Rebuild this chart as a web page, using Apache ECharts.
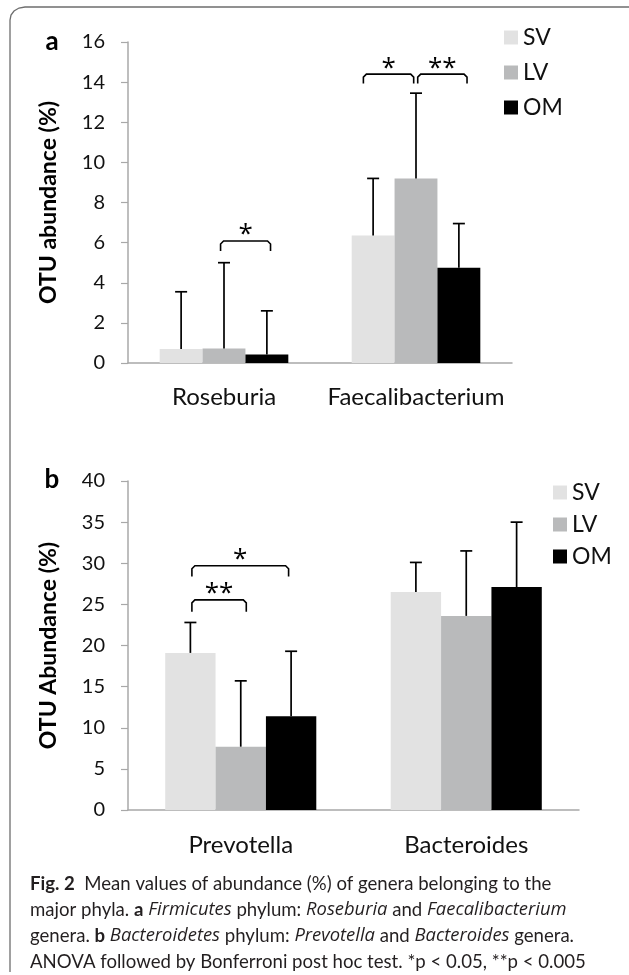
<!DOCTYPE html>
<html>
<head>
<meta charset="utf-8">
<script src="https://cdn.jsdelivr.net/npm/echarts@6/dist/echarts.min.js"></script>
<style>
html,body{margin:0;padding:0;background:#fff;}
#c{width:629px;height:975px;}
</style>
</head>
<body>
<div id="c"></div>
<script>
// ---- data ----
const groups = ['SV', 'LV', 'OM'];
const colors = ['#E2E2E2', '#B9BABB', '#000000'];

const catsA = ['Roseburia', 'Faecalibacterium'];
const svA = [0.7, 6.35];
const lvA = [0.72, 9.2];
const omA = [0.42, 4.75];
const svErrA = [3.55, 9.2];
const lvErrA = [5.0, 13.45];
const omErrA = [2.6, 6.95];
const yMaxA = 16, yStepA = 2;

const catsB = ['Prevotella', 'Bacteroides'];
const svB = [19.1, 26.5];
const lvB = [7.7, 23.6];
const omB = [11.4, 27.1];
const svErrB = [22.8, 30.1];
const lvErrB = [15.7, 31.5];
const omErrB = [19.3, 35.0];
const yMaxB = 40, yStepB = 5;

// significance brackets: category, start/end (in bar widths from category centre), top value, leg value
const bracketCatA = [0, 1, 1];
const bracketFromA = [-0.08, -1.227, 0.04];
const bracketToA = [1.085, -0.054, 1.19];
const bracketTopA = [6.08, 14.4, 14.4];
const bracketLegA = [5.58, 13.93, 13.93];
const bracketTextA = ['*', '*', '**'];

const bracketCatB = [0, 0];
const bracketFromB = [-0.97, -0.97];
const bracketToB = [0.95, 0.11];
const bracketTopB = [29.7, 25.55];
const bracketLegB = [28.4, 24.1];
const bracketTextB = ['*', '**'];

const FONT = 'Lato';
const GAP = 0.33;
const BAR_FRAC = (1 - GAP) / 3;
const AXIS_COLOR = '#A8A8A8';

const chart = echarts.init(document.getElementById('c'), null, {renderer: 'canvas'});

function barSeries(name, data, idx, gi) {
  return {
    type: 'bar', name: name, data: data,
    xAxisIndex: gi, yAxisIndex: gi,
    barGap: '0%', barCategoryGap: (GAP * 100) + '%',
    itemStyle: {color: colors[idx]},
    emphasis: {disabled: true},
    z: 2
  };
}

function errSeries(gi, means, ups) {
  const data = [];
  for (let g = 0; g < 3; g++) {
    for (let c = 0; c < means[g].length; c++) {
      data.push([c, g, means[g][c], ups[g][c]]);
    }
  }
  return {
    type: 'custom', xAxisIndex: gi, yAxisIndex: gi, z: 5,
    silent: true,
    encode: {x: 0, y: [2, 3]},
    data: data,
    renderItem: function (params, api) {
      const c = api.value(0), g = api.value(1);
      const band = api.size([1, 0])[0];
      const bw = band * BAR_FRAC;
      const p0 = api.coord([c, api.value(2)]);
      const p1 = api.coord([c, api.value(3)]);
      const x = p0[0] + (g - 1) * bw;
      const st = {stroke: '#000', lineWidth: 1.7};
      return {type: 'group', children: [
        {type: 'line', shape: {x1: x, y1: p0[1], x2: x, y2: p1[1]}, style: st},
        {type: 'line', shape: {x1: x - 6, y1: p1[1], x2: x + 6, y2: p1[1]}, style: st}
      ]};
    }
  };
}

function bracketSeries(gi, cats, from, to, top, leg, texts) {
  const data = cats.map((c, i) => [c, from[i], to[i], top[i], leg[i], i]);
  return {
    type: 'custom', xAxisIndex: gi, yAxisIndex: gi, z: 6,
    silent: true,
    encode: {x: 0, y: [3, 4]},
    data: data,
    renderItem: function (params, api) {
      const c = api.value(0);
      const band = api.size([1, 0])[0];
      const bw = band * BAR_FRAC;
      const pc = api.coord([c, api.value(3)]);
      const pl = api.coord([c, api.value(4)]);
      const x0 = pc[0] + api.value(1) * bw;
      const x1 = pc[0] + api.value(2) * bw;
      const yt = pc[1], yl = pl[1];
      const r = 3;
      const st = {stroke: '#000', lineWidth: 1.6, fill: null};
      return {type: 'group', children: [
        {type: 'polyline', shape: {points: [[x0, yl], [x0, yt + r], [x0 + r, yt], [x1 - r, yt], [x1, yt + r], [x1, yl]]}, style: st},
        {type: 'text', x: (x0 + x1) / 2, y: yt + 7,
          style: {text: texts[api.value(5)], fontFamily: 'Open Sans', fontSize: 26, fill: '#000',
            align: 'center', verticalAlign: 'bottom'}}
      ]};
    }
  };
}

const axisLabelY = {fontFamily: FONT, fontSize: 20, color: '#111', margin: 23};
const axisLabelX = {fontFamily: FONT, fontSize: 24, color: '#111', interval: 0};

const capStyle = {fontFamily: FONT, fontSize: 18.6, fill: '#231F20'};
const capItalic = {fontFamily: 'Open Sans', fontStyle: 'italic', fontSize: 18.4, fill: '#231F20'};
const capBold = Object.assign({}, capStyle, {fontWeight: 'bold'});

const option = {
  animation: false,
  backgroundColor: '#fff',
  grid: [
    {left: 128, top: 42, width: 384, height: 321},
    {left: 128, top: 481, width: 451, height: 329}
  ],
  legend: [
    {data: groups, orient: 'vertical', left: 499, top: 21, itemWidth: 14, itemHeight: 14, itemGap: 12,
      icon: 'rect', selectedMode: false,
      textStyle: {fontFamily: FONT, fontSize: 23, color: '#111'}},
    {data: groups, orient: 'vertical', left: 548, top: 476, itemWidth: 14, itemHeight: 14, itemGap: 9,
      icon: 'rect', selectedMode: false,
      textStyle: {fontFamily: FONT, fontSize: 23, color: '#111'}}
  ],
  xAxis: [
    {type: 'category', gridIndex: 0, data: catsA,
      axisLine: {lineStyle: {color: AXIS_COLOR, width: 1.5}}, axisTick: {show: false},
      axisLabel: Object.assign({}, axisLabelX, {margin: 22})},
    {type: 'category', gridIndex: 1, data: catsB,
      axisLine: {lineStyle: {color: AXIS_COLOR, width: 1.5}}, axisTick: {show: false},
      axisLabel: Object.assign({}, axisLabelX, {margin: 23})}
  ],
  yAxis: [
    {type: 'value', gridIndex: 0, min: 0, max: yMaxA, interval: yStepA,
      name: 'OTU abundance (%)', nameLocation: 'middle', nameGap: 68, nameRotate: 90,
      nameTextStyle: {fontFamily: FONT, fontSize: 23, fontWeight: 'bold', color: '#000'},
      axisLine: {show: true, lineStyle: {color: AXIS_COLOR, width: 1.5}},
      axisTick: {show: true, length: 7, lineStyle: {color: AXIS_COLOR, width: 1.2}},
      splitLine: {show: false}, axisLabel: axisLabelY},
    {type: 'value', gridIndex: 1, min: 0, max: yMaxB, interval: yStepB,
      name: 'OTU Abundance (%)', nameLocation: 'middle', nameGap: 68, nameRotate: 90,
      nameTextStyle: {fontFamily: FONT, fontSize: 23, fontWeight: 'bold', color: '#000'},
      axisLine: {show: true, lineStyle: {color: AXIS_COLOR, width: 1.5}},
      axisTick: {show: true, length: 7, lineStyle: {color: AXIS_COLOR, width: 1.2}},
      splitLine: {show: false}, axisLabel: axisLabelY}
  ],
  series: [
    barSeries('SV', svA, 0, 0), barSeries('LV', lvA, 1, 0), barSeries('OM', omA, 2, 0),
    barSeries('SV', svB, 0, 1), barSeries('LV', lvB, 1, 1), barSeries('OM', omB, 2, 1),
    errSeries(0, [svA, lvA, omA], [svErrA, lvErrA, omErrA]),
    errSeries(1, [svB, lvB, omB], [svErrB, lvErrB, omErrB]),
    bracketSeries(0, bracketCatA, bracketFromA, bracketToA, bracketTopA, bracketLegA, bracketTextA),
    bracketSeries(1, bracketCatB, bracketFromB, bracketToB, bracketTopB, bracketLegB, bracketTextB)
  ],
  graphic: [
    {type: 'polyline', silent: true,
      shape: {points: [[10, 972], [10, 20], [11, 15], [14, 11], [19, 8], [25, 7], [629, 7]]},
      style: {stroke: '#6E6E6E', lineWidth: 1.3, fill: null}},
    {type: 'text', x: 52, y: 42, silent: true,
      style: {text: 'a', fontFamily: FONT, fontSize: 26, fontWeight: 'bold', fill: '#000', align: 'center', verticalAlign: 'middle'}},
    {type: 'text', x: 52, y: 480, silent: true,
      style: {text: 'b', fontFamily: FONT, fontSize: 26, fontWeight: 'bold', fill: '#000', align: 'center', verticalAlign: 'middle'}},
    {type: 'text', x: 30, y: 884, silent: true,
      style: Object.assign({text: '{b|Fig. 2}  Mean values of abundance (%) of genera belonging to the', verticalAlign: 'middle',
        rich: {b: capBold}}, capStyle)},
    {type: 'text', x: 30, y: 910, silent: true,
      style: Object.assign({text: 'major phyla. {b|a} {i|Firmicutes} phylum: {i|Roseburia} and {i|Faecalibacterium}', verticalAlign: 'middle',
        rich: {b: capBold, i: capItalic}}, capStyle)},
    {type: 'text', x: 30, y: 936, silent: true,
      style: Object.assign({text: 'genera. {b|b} {i|Bacteroidetes} phylum: {i|Prevotella} and {i|Bacteroides} genera.', verticalAlign: 'middle',
        rich: {b: capBold, i: capItalic}}, capStyle)},
    {type: 'text', x: 30, y: 962, silent: true,
      style: Object.assign({text: 'ANOVA followed by Bonferroni post hoc test. *p < 0.05, **p < 0.005', verticalAlign: 'middle'}, capStyle)}
  ]
};
chart.setOption(option);
</script>
</body>
</html>
